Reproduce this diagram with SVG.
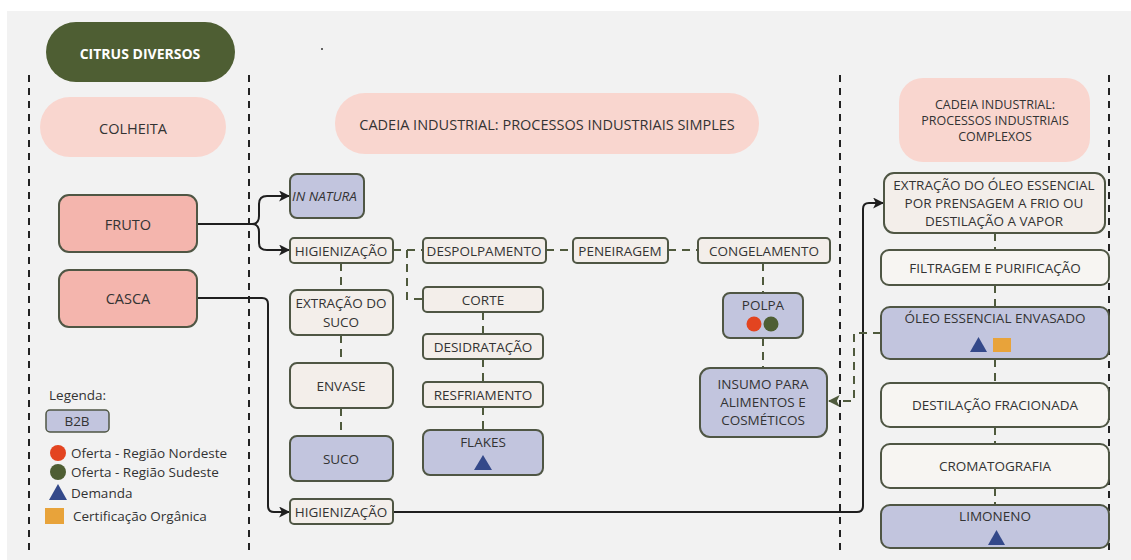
<svg xmlns="http://www.w3.org/2000/svg" width="1131" height="560" viewBox="0 0 1131 560">
<defs>
<style>
text{font-family:"Open Sans","Liberation Sans",sans-serif;font-size:13.5px;fill:#333;text-anchor:middle;dominant-baseline:central}
.big{font-size:14.5px}
.div{stroke:#222;stroke-width:2;stroke-dasharray:7 6;fill:none}
.pill{fill:#f9d6cf}
.box{stroke:#4f5644;stroke-width:2}
.beige{fill:#f3eeea}
.white{fill:#f7f5f2}
.lav{fill:#c2c5de}
.red{fill:#f4b5ad}
.solid{stroke:#1f1f1f;stroke-width:2;fill:none}
.dash{stroke:#4f5a3d;stroke-width:2;stroke-dasharray:8 6;fill:none}
.tri{fill:#34498a}
.lg{text-anchor:start;font-size:13.5px}
</style>
<marker id="ab" viewBox="0 0 10 10" refX="9" refY="5" markerWidth="5.5" markerHeight="5.5" orient="auto" markerUnits="strokeWidth"><path d="M0,0 L10,5 L0,10 L2.5,5 z" fill="#1f1f1f"/></marker>
<marker id="ag" viewBox="0 0 10 10" refX="9" refY="5" markerWidth="6" markerHeight="6" orient="auto" markerUnits="strokeWidth"><path d="M0,0 L10,5 L0,10 L2.5,5 z" fill="#4f5a3d"/></marker>
</defs>
<rect x="7" y="11" width="1124" height="549" fill="#f2f2f2"/>
<g id="dividers">
<line class="div" x1="29" y1="75" x2="29" y2="556"/>
<line class="div" x1="249" y1="75" x2="249" y2="556"/>
<line class="div" x1="840" y1="75" x2="840" y2="556"/>
<line class="div" x1="1109" y1="75" x2="1109" y2="556"/>
</g>
<circle cx="322" cy="49" r="1" fill="#333"/>
<g id="citrus"><rect x="46" y="22" width="189" height="60" rx="30" fill="#4e5e33"/><text x="140" y="53" style="fill:#fff;font-weight:bold;font-size:14px">CITRUS DIVERSOS</text></g>
<g id="colheita"><rect class="pill" x="40" y="97" width="186" height="60" rx="30"/><text class="big" x="133" y="128">COLHEITA</text></g>
<g id="cadeia-simples"><rect class="pill" x="335" y="93" width="424" height="61" rx="30"/><text class="big" x="547" y="124">CADEIA INDUSTRIAL: PROCESSOS INDUSTRIAIS SIMPLES</text></g>
<g id="cadeia-complexos"><rect class="pill" x="899" y="78" width="191" height="84" rx="24"/><text x="995" y="104" style="font-size:12.5px">CADEIA INDUSTRIAL:</text><text x="995" y="120" style="font-size:12.5px">PROCESSOS INDUSTRIAIS</text><text x="995" y="136" style="font-size:12.5px">COMPLEXOS</text></g>

<g id="connectors">
<path class="solid" marker-end="url(#ab)" d="M197,224 H252 Q259,224 259,216 V204 Q259,196 267,196 H289"/>
<path class="solid" marker-end="url(#ab)" d="M197,224 H252 Q259,224 259,232 V243 Q259,250 267,250 H289"/>
<path class="solid" marker-end="url(#ab)" d="M197,298 H262 Q268,298 268,304 V506 Q268,512 274,512 H289"/>
<path class="solid" marker-end="url(#ab)" d="M393,512 H857 Q863,512 863,506 V209 Q863,203 869,203 H883"/>
<path class="dash" d="M393,250 H423"/>
<path class="dash" d="M407,250 V299 H423"/>
<path class="dash" d="M546,250 H573"/>
<path class="dash" d="M668,250 H698"/>
<path class="dash" d="M341,263 V290"/>
<path class="dash" d="M341,335 V363"/>
<path class="dash" d="M341,408 V436"/>
<path class="dash" d="M483,312 V334"/>
<path class="dash" d="M483,359 V382"/>
<path class="dash" d="M483,407 V430"/>
<path class="dash" d="M763,263 V293"/>
<path class="dash" d="M763,338 V368"/>
<path class="dash" d="M995,233 V250"/>
<path class="dash" d="M995,285 V307"/>
<path class="dash" d="M995,359 V383"/>
<path class="dash" d="M995,427 V444"/>
<path class="dash" d="M995,488 V505"/>
<path class="dash" marker-end="url(#ag)" d="M881,333 H854 V401 H829"/>
</g>

<g id="fruto"><rect class="box red" x="59" y="195" width="138" height="57" rx="10"/><text class="big" x="128" y="224">FRUTO</text></g>
<g id="casca"><rect class="box red" x="59" y="270" width="138" height="57" rx="10"/><text class="big" x="128" y="298">CASCA</text></g>

<g id="in-natura"><rect class="box lav" x="290" y="174" width="74" height="44" rx="7"/><text x="292" y="196" style="font-style:italic;text-anchor:start">IN NATURA</text></g>
<g id="higienizacao1"><rect class="box beige" x="290" y="238" width="103" height="25" rx="4"/><text x="341" y="250.5">HIGIENIZAÇÃO</text></g>
<g id="despolpamento"><rect class="box beige" x="423" y="238" width="123" height="25" rx="4"/><text x="484" y="250.5">DESPOLPAMENTO</text></g>
<g id="peneiragem"><rect class="box beige" x="573" y="238" width="95" height="25" rx="4"/><text x="620" y="250.5">PENEIRAGEM</text></g>
<g id="congelamento"><rect class="box beige" x="698" y="238" width="132" height="25" rx="4"/><text x="764" y="250.5">CONGELAMENTO</text></g>
<g id="extracao-suco"><rect class="box beige" x="290" y="290" width="103" height="45" rx="7"/><text x="341" y="303">EXTRAÇÃO DO</text><text x="341" y="322">SUCO</text></g>
<g id="envase"><rect class="box beige" x="290" y="363" width="103" height="45" rx="7"/><text x="341" y="386">ENVASE</text></g>
<g id="suco"><rect class="box lav" x="290" y="436" width="103" height="45" rx="7"/><text x="341" y="459">SUCO</text></g>
<g id="higienizacao2"><rect class="box beige" x="290" y="499" width="103" height="25" rx="4"/><text x="341" y="512">HIGIENIZAÇÃO</text></g>
<g id="corte"><rect class="box beige" x="423" y="287" width="120" height="25" rx="4"/><text x="483" y="299.5">CORTE</text></g>
<g id="desidratacao"><rect class="box beige" x="423" y="334" width="120" height="25" rx="4"/><text x="483" y="346.5">DESIDRATAÇÃO</text></g>
<g id="resfriamento"><rect class="box beige" x="423" y="382" width="120" height="25" rx="4"/><text x="483" y="394.5">RESFRIAMENTO</text></g>
<g id="flakes"><rect class="box lav" x="423" y="430" width="120" height="45" rx="7"/><text x="483" y="442">FLAKES</text><path class="tri" d="M474,470 L483,455 L492,470 z"/></g>
<g id="polpa"><rect class="box lav" x="723" y="293" width="80" height="45" rx="7"/><text x="763" y="305">POLPA</text><circle cx="754" cy="324" r="7.5" fill="#e34420"/><circle cx="771" cy="324" r="7.5" fill="#4e5e33"/></g>
<g id="insumo"><rect class="box lav" x="700" y="368" width="127" height="69" rx="10"/><text x="763" y="384">INSUMO PARA</text><text x="763" y="402">ALIMENTOS E</text><text x="763" y="420">COSMÉTICOS</text></g>

<g id="extracao-oleo"><rect class="box beige" x="884" y="173" width="221" height="60" rx="10"/><text x="994" y="185">EXTRAÇÃO DO ÓLEO ESSENCIAL</text><text x="994" y="203">POR PRENSAGEM A FRIO OU</text><text x="994" y="221">DESTILAÇÃO A VAPOR</text></g>
<g id="filtragem"><rect class="box white" x="881" y="250" width="228" height="35" rx="8"/><text x="995" y="268">FILTRAGEM E PURIFICAÇÃO</text></g>
<g id="oleo-envasado"><rect class="box lav" x="881" y="307" width="228" height="52" rx="9"/><text x="995" y="318">ÓLEO ESSENCIAL ENVASADO</text><path class="tri" d="M970,352 L978.5,337 L987,352 z"/><rect x="993" y="338" width="18" height="14" fill="#e8a33a"/></g>
<g id="destilacao"><rect class="box white" x="881" y="383" width="228" height="44" rx="9"/><text x="995" y="405">DESTILAÇÃO FRACIONADA</text></g>
<g id="cromatografia"><rect class="box white" x="881" y="444" width="228" height="44" rx="9"/><text x="995" y="466">CROMATOGRAFIA</text></g>
<g id="limoneno"><rect class="box lav" x="881" y="505" width="228" height="43" rx="9"/><text x="995" y="516">LIMONENO</text><path class="tri" d="M988,545 L996.5,530 L1005,545 z"/></g>

<g id="legend">
<text class="lg" x="49" y="395">Legenda:</text>
<rect class="box lav" x="46" y="410" width="63" height="22" rx="4" style="stroke-width:1.5"/><text x="77" y="421">B2B</text>
<circle cx="58" cy="453" r="8" fill="#e34420"/><text class="lg" x="71" y="453">Oferta - Região Nordeste</text>
<circle cx="58" cy="472" r="8" fill="#4e5e33"/><text class="lg" x="71" y="472">Oferta - Região Sudeste</text>
<path class="tri" d="M49,500 L58,484 L67,500 z"/><text class="lg" x="71" y="493">Demanda</text>
<rect x="45" y="508" width="19" height="16" fill="#e8a33a"/><text class="lg" x="73" y="516">Certificação Orgânica</text>
</g>
</svg>
